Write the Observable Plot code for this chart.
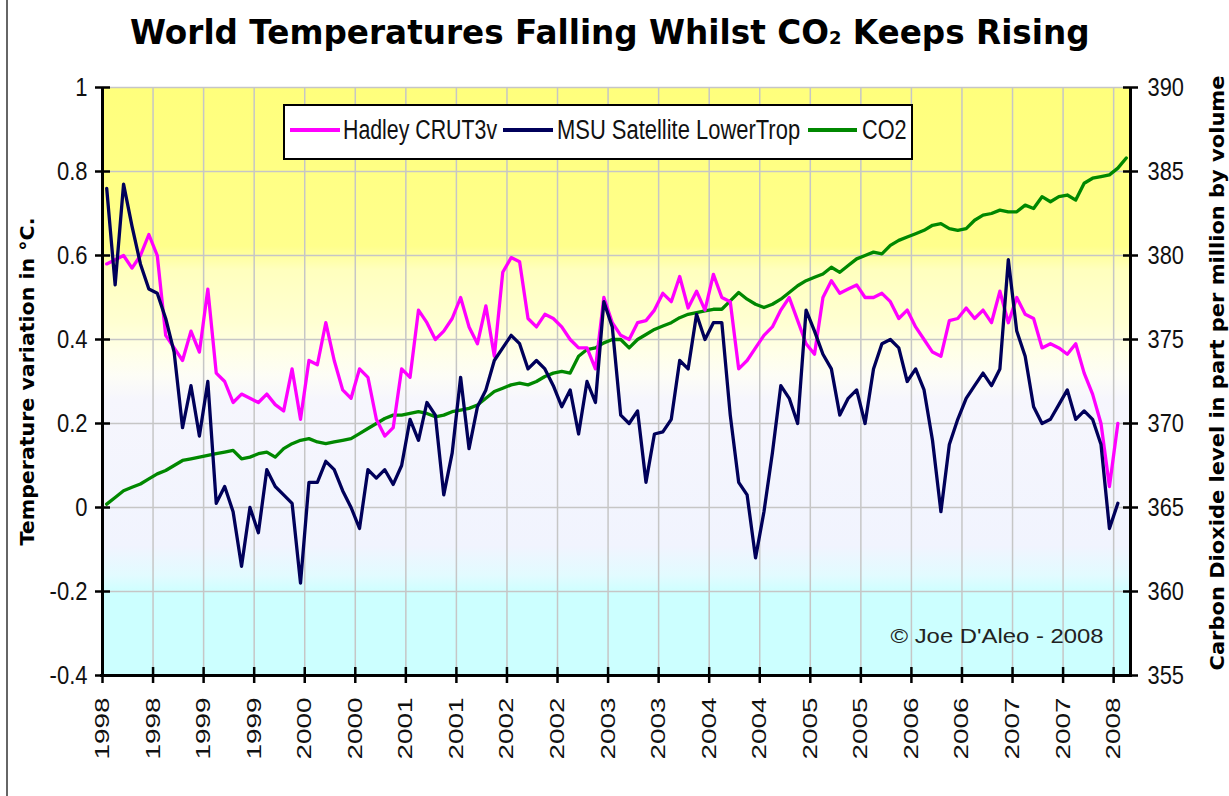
<!DOCTYPE html>
<html>
<head>
<meta charset="utf-8">
<script src="https://cdn.jsdelivr.net/npm/d3@7"></script>
<script src="https://cdn.jsdelivr.net/npm/@observablehq/plot@0.6"></script>
<style>
html,body{margin:0;padding:0;background:#fff;}
#wrap{position:relative;width:1229px;height:796px;overflow:hidden;font-family:"Liberation Sans",Arial,sans-serif;}
#edge{position:absolute;left:6px;top:0;width:2px;height:796px;background:#666;}
#title{position:absolute;left:0;top:11px;width:1220px;text-align:center;font-family:"DejaVu Sans",Verdana,sans-serif;font-weight:bold;font-size:33px;line-height:44px;color:#000;white-space:nowrap;}
#title span{display:inline-block;transform-origin:center center;}
#title sub{font-size:55%;vertical-align:baseline;}
#chart{position:absolute;left:0;top:62px;}
#legend{position:absolute;left:283px;top:104px;width:626px;height:52px;border:2px solid #000;background:#fff;}
.sw{position:absolute;top:22px;height:4px;}
.lt{position:absolute;top:7px;font-size:27px;line-height:34px;white-space:nowrap;transform-origin:left center;color:#111;}
</style>
</head>
<body>
<div id="wrap">
  <div id="edge"></div>
  <div id="title"><span id="titleText">World Temperatures Falling Whilst CO<sub>2</sub> Keeps Rising</span></div>
  <div id="chart"></div>
  <div id="legend"></div>
</div>
<script>
// ---------- data ----------
const xTickLabels = ["1998","1998","1999","1999","2000","2000","2001","2001","2002","2002","2003","2003","2004","2004","2005","2005","2006","2006","2007","2007","2008"];
const tempTicks = [1, 0.8, 0.6, 0.4, 0.2, 0, -0.2, -0.4];
const tempTickLabels = ["1","0.8","0.6","0.4","0.2","0","-0.2","-0.4"];
const co2Ticks = [390, 385, 380, 375, 370, 365, 360, 355];
const seriesNames = ["Hadley CRUT3v", "MSU Satellite LowerTrop", "CO2"];

// monthly, Jan 1998 .. Jan 2008 (°C anomaly)
const hadley = [
 0.58,0.59,0.60,0.57,0.60,0.65,0.60,0.41,0.38,0.35,0.42,0.37,
 0.52,0.32,0.30,0.25,0.27,0.26,0.25,0.27,0.245,0.23,0.33,0.21,
 0.35,0.34,0.44,0.35,0.28,0.26,0.33,0.31,0.21,0.17,0.19,0.33,
 0.31,0.47,0.44,0.40,0.42,0.45,0.50,0.43,0.39,0.48,0.36,0.56,
 0.595,0.585,0.45,0.43,0.46,0.45,0.43,0.40,0.38,0.38,0.33,0.50,
 0.44,0.41,0.40,0.44,0.445,0.47,0.51,0.49,0.55,0.475,0.515,0.47,
 0.555,0.50,0.49,0.33,0.35,0.38,0.41,0.43,0.47,0.50,0.445,0.39,
 0.365,0.50,0.54,0.51,0.52,0.53,0.50,0.50,0.51,0.49,0.45,0.47,
 0.43,0.40,0.37,0.36,0.445,0.45,0.475,0.45,0.47,0.44,0.515,0.44,
 0.50,0.46,0.45,0.38,0.39,0.38,0.365,0.39,0.32,0.27,0.20,0.05,
 0.20
];
const msu = [
 0.76,0.53,0.77,0.67,0.58,0.52,0.51,0.45,0.37,0.19,0.29,0.17,
 0.30,0.01,0.05,-0.01,-0.14,0.00,-0.06,0.09,0.05,0.03,0.01,-0.18,
 0.06,0.06,0.11,0.09,0.04,0.00,-0.05,0.09,0.07,0.09,0.055,0.10,
 0.21,0.16,0.25,0.22,0.03,0.13,0.31,0.14,0.24,0.28,0.35,0.38,
 0.41,0.39,0.33,0.35,0.33,0.29,0.24,0.28,0.175,0.30,0.25,0.49,
 0.43,0.22,0.20,0.23,0.06,0.175,0.18,0.21,0.35,0.33,0.46,0.40,
 0.44,0.44,0.22,0.06,0.03,-0.12,-0.01,0.13,0.29,0.26,0.20,0.47,
 0.42,0.365,0.33,0.22,0.26,0.28,0.20,0.33,0.39,0.40,0.38,0.30,
 0.33,0.28,0.16,-0.01,0.15,0.21,0.26,0.29,0.32,0.29,0.33,0.59,
 0.42,0.36,0.24,0.20,0.21,0.245,0.28,0.21,0.23,0.21,0.15,-0.05,
 0.01
];
// monthly, Jan 1998 .. Feb 2008 (ppm)
const co2 = [
 365.2,365.6,366.0,366.2,366.4,366.7,367.0,367.2,367.5,367.8,
 367.9,368.0,368.1,368.2,368.3,368.4,367.9,368.0,368.2,368.3,
 368.0,368.5,368.8,369.0,369.1,368.9,368.8,368.9,369.0,369.1,
 369.4,369.7,370.0,370.3,370.5,370.5,370.6,370.7,370.6,370.4,
 370.5,370.7,370.8,370.9,371.1,371.5,371.9,372.1,372.3,372.4,
 372.3,372.5,372.8,373.0,373.1,373.0,374.0,374.4,374.5,374.8,
 375.0,375.0,374.5,375.0,375.3,375.6,375.8,376.0,376.3,376.5,
 376.6,376.7,376.8,376.8,377.3,377.8,377.4,377.1,376.9,377.1,
 377.4,377.8,378.2,378.5,378.7,378.9,379.3,379.0,379.4,379.8,
 380.0,380.2,380.1,380.6,380.9,381.1,381.3,381.5,381.8,381.9,
 381.6,381.5,381.6,382.1,382.4,382.5,382.7,382.6,382.6,383.0,
 382.8,383.5,383.2,383.5,383.6,383.3,384.3,384.6,384.7,384.8,
 385.2,385.8
];

// ---------- chart ----------
const colors = {hadley: "#ff00ff", msu: "#00005a", co2: "#008800"};
const co2ToTemp = v => (v - 365) / 25;          // secondary axis: 355..390 ppm <-> -0.4..1 °C
const monthX = (d, i) => i + 0.5;               // category centre
const nCategories = 122;
const tickPos = xTickLabels.map((d, i) => i * 6);

const chart = Plot.plot({
  width: 1229,
  height: 734,
  marginTop: 25,
  marginBottom: 121,
  marginLeft: 102,
  marginRight: 99,
  x: {domain: [0, nCategories], axis: null},
  y: {domain: [-0.4, 1], axis: null},
  style: {fontFamily: "'Liberation Sans', Arial, sans-serif", background: "transparent", overflow: "visible", color: "#000"},
  marks: [
    Plot.frame({fill: "url(#bgGrad)", stroke: "none"}),
    Plot.ruleY(tempTicks, {stroke: "#c6c6c6", strokeWidth: 1.5}),
    Plot.ruleX(tickPos, {stroke: "#c6c6c6", strokeWidth: 1.5}),
    Plot.line(co2, {x: monthX, y: co2ToTemp, stroke: colors.co2, strokeWidth: 3.3}),
    Plot.line(hadley, {x: monthX, y: d => d, stroke: colors.hadley, strokeWidth: 3.3}),
    Plot.line(msu, {x: monthX, y: d => d, stroke: colors.msu, strokeWidth: 3.3}),
    // axis lines
    Plot.ruleX([0, nCategories], {stroke: "#000", strokeWidth: 3}),
    Plot.ruleY([-0.4], {stroke: "#000", strokeWidth: 3, insetLeft: -2, insetRight: -2}),
    // crossing tick marks
    Plot.ruleY(tempTicks, {x1: 0, x2: 0, insetLeft: -7, insetRight: -8, stroke: "#000", strokeWidth: 2.5}),
    Plot.ruleY(tempTicks, {x1: nCategories, x2: nCategories, insetLeft: -7, insetRight: -8, stroke: "#000", strokeWidth: 2.5}),
    Plot.ruleX(tickPos, {y1: -0.4, y2: -0.4, insetTop: -8, insetBottom: -8, stroke: "#000", strokeWidth: 2.5}),
    // tick labels
    Plot.text(tempTickLabels, {x: 0, y: (d, i) => tempTicks[i], text: d => d, dx: -15, textAnchor: "end", fontSize: 25, fill: "#111", className: "lab-left"}),
    Plot.text(co2Ticks, {x: nCategories, y: co2ToTemp, text: d => String(d), dx: 17, textAnchor: "start", fontSize: 26, fill: "#111", className: "lab-right"}),
    Plot.text(xTickLabels, {x: (d, i) => tickPos[i], y: -0.4, text: d => d, rotate: -90, textAnchor: "end", dy: 22, fontSize: 28, fill: "#111", className: "lab-x"}),
    // axis titles (start-anchored so the stretched length grows upward from a fixed point)
    Plot.text(["Temperature variation in °C."], {frameAnchor: "left", rotate: -90, dx: -75, dy: 164, textAnchor: "start", fontSize: 19, fontWeight: "bold", fontFamily: "'DejaVu Sans', Verdana, sans-serif", className: "title-left"}),
    Plot.text(["Carbon Dioxide level in part per million by volume"], {frameAnchor: "right", rotate: -90, dx: 87, dy: 289, textAnchor: "start", fontSize: 20, fontWeight: "bold", fontFamily: "'DejaVu Sans', Verdana, sans-serif", className: "title-right"}),
    // credit
    Plot.text(["© Joe D'Aleo - 2008"], {frameAnchor: "bottom-right", dx: -27, dy: -33, textAnchor: "end", fontSize: 20, fill: "#222", className: "credit"})
  ]
});

document.getElementById("chart").append(chart);

// background gradient of the plotting area
const svg = d3.select(chart);
const grad = svg.insert("defs", ":first-child").append("linearGradient")
  .attr("id", "bgGrad").attr("x1", 0).attr("y1", 0).attr("x2", 0).attr("y2", 1);
[[0, "#ffff7c"], [0.27, "#ffff8c"], [0.31, "#ffffbe"], [0.40, "#ffffd2"], [0.45, "#ffffe8"],
 [0.49, "#fdfdf6"], [0.53, "#f6f6fd"], [0.78, "#f1f4fe"], [0.83, "#e2fbff"], [0.86, "#ccffff"], [1, "#ccffff"]]
  .forEach(([o, c]) => grad.append("stop").attr("offset", o).attr("stop-color", c));

// narrow (horizontally compressed) lettering as in the original
function squash(sel, k) {
  sel.each(function () {
    const L = this.getComputedTextLength();
    this.setAttribute("textLength", L * k);
    this.setAttribute("lengthAdjust", "spacingAndGlyphs");
  });
}
function fitTo(sel, w) {
  sel.each(function () {
    this.setAttribute("textLength", w);
    this.setAttribute("lengthAdjust", "spacingAndGlyphs");
  });
}
squash(svg.selectAll(".lab-left text"), 0.88);
squash(svg.selectAll(".lab-right text"), 0.84);
fitTo(svg.selectAll(".lab-x text"), 62);
svg.selectAll(".lab-x text").each(function () {
  this.setAttribute("transform", this.getAttribute("transform") + " scale(1,0.72)");
});
fitTo(svg.selectAll(".title-left text"), 328);
fitTo(svg.selectAll(".title-right text"), 595);
fitTo(svg.selectAll(".credit text"), 213);

// title width
const tt = document.getElementById("titleText");
tt.style.transform = `scaleX(${960 / tt.offsetWidth})`;

// legend (line swatches + names)
const legend = document.getElementById("legend");
const legendItems = [
  {name: seriesNames[0], color: colors.hadley, sw: 5, swW: 50, tx: 58, tw: 154},
  {name: seriesNames[1], color: colors.msu, sw: 218, swW: 50, tx: 272, tw: 243},
  {name: seriesNames[2], color: colors.co2, sw: 523, swW: 49, tx: 577, tw: 45}
];
legendItems.forEach(it => {
  const s = document.createElement("div");
  s.className = "sw";
  s.style.left = it.sw + "px";
  s.style.width = it.swW + "px";
  s.style.background = it.color;
  legend.append(s);
  const t = document.createElement("div");
  t.className = "lt";
  t.style.left = it.tx + "px";
  t.textContent = it.name;
  legend.append(t);
  t.style.transform = `scaleX(${it.tw / t.offsetWidth})`;
});
</script>
</body>
</html>
